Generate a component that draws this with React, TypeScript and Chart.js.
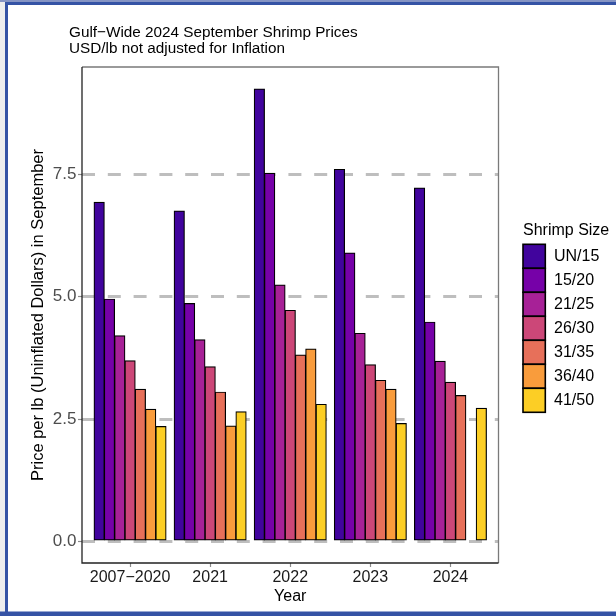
import React, { useEffect, useRef } from 'react';
import { Chart, registerables } from 'chart.js';

Chart.register(...registerables);

// ---- Data ----
const years = ['2007\u22122020', '2021', '2022', '2023', '2024'];
const sizes = ['UN/15', '15/20', '21/25', '26/30', '31/35', '36/40', '41/50'];
const un15 = [6.93, 6.75, 9.24, 7.6, 7.22];
const s15to20 = [4.95, 4.86, 7.52, 5.89, 4.48];
const s21to25 = [4.2, 4.12, 5.24, 4.25, 3.68];
const s26to30 = [3.69, 3.57, 4.72, 3.61, 3.25];
const s31to35 = [3.11, 3.05, 3.81, 3.29, 2.98];
const s36to40 = [2.7, 2.36, 3.93, 3.11, null];
const s41to50 = [2.35, 2.65, 2.8, 2.41, 2.72];
const yTicks = [0, 2.5, 5, 7.5];
const titleLines = ['Gulf\u2212Wide 2024 September Shrimp Prices', 'USD/lb not adjusted for Inflation'];
const yTitle = 'Price per lb (Uninflated Dollars) in September';
const xTitle = 'Year';
const legendTitle = 'Shrimp Size';

const colors = ['#41049D', '#7601A8', '#A72197', '#CC4778', '#E7705A', '#F99C3C', '#FCCE25'];
const FONT = "'Liberation Sans', Arial, sans-serif";

export default function App() {
  const ref = useRef<HTMLCanvasElement | null>(null);

  useEffect(() => {
    const canvas = ref.current;
    if (!canvas) return;
    const series = [un15, s15to20, s21to25, s26to30, s31to35, s36to40, s41to50];

    const datasets = sizes.map((s, i) => ({
      label: s,
      data: series[i].map((v, j) => ({ x: j + 1, y: v })),
      backgroundColor: colors[i],
      borderColor: '#000000',
      borderWidth: 1.2,
      borderSkipped: false as const,
      categoryPercentage: 0.9,
      barPercentage: 1,
      inflateAmount: 0.45,
    }));

    const decor = {
      id: 'decor',
      afterDraw(chart: any) {
        const ctx = chart.ctx;
        const a = chart.chartArea;
        ctx.save();
        // panel border
        ctx.lineWidth = 1.3;
        ctx.strokeStyle = '#7a7a7a';
        ctx.beginPath();
        ctx.moveTo(a.left, a.top);
        ctx.lineTo(a.right, a.top);
        ctx.lineTo(a.right, a.bottom);
        ctx.stroke();
        ctx.strokeStyle = '#222222';
        ctx.beginPath();
        ctx.moveTo(a.left, a.top);
        ctx.lineTo(a.left, a.bottom);
        ctx.lineTo(a.right, a.bottom);
        ctx.stroke();

        // title
        ctx.fillStyle = '#000000';
        ctx.font = `15.3px ${FONT}`;
        ctx.textAlign = 'left';
        ctx.textBaseline = 'alphabetic';
        ctx.fillText(titleLines[0], 69, 36.5);
        ctx.fillText(titleLines[1], 69, 52.5);

        // legend
        ctx.font = `16px ${FONT}`;
        ctx.fillText(legendTitle, 523, 234.5);
        const kx = 523, ky = 244.3, kw = 22.3, kh = 24;
        chart.data.datasets.forEach((ds: any, i: number) => {
          const y = ky + i * kh;
          ctx.fillStyle = ds.backgroundColor;
          ctx.fillRect(kx, y, kw, kh);
          ctx.lineWidth = 1.6;
          ctx.strokeStyle = '#000000';
          ctx.strokeRect(kx, y, kw, kh);
          ctx.fillStyle = '#000000';
          ctx.textBaseline = 'middle';
          ctx.fillText(ds.label, 554, y + kh / 2 + 0.5);
        });

        // outer frame
        ctx.fillStyle = '#eeeeee';
        ctx.fillRect(0, 0, 5, 616);
        ctx.fillStyle = '#8594c4';
        ctx.fillRect(0, 0, 616, 2);
        ctx.fillStyle = '#3553a5';
        ctx.fillRect(5, 2, 611, 3);
        ctx.fillRect(5, 2, 3, 614);
        ctx.fillRect(0, 611.5, 616, 4.5);
        ctx.restore();
      },
    };

    const chart = new Chart(canvas, {
      type: 'bar',
      data: { datasets: datasets as any },
      plugins: [decor],
      options: {
        responsive: false,
        animation: false,
        devicePixelRatio: 1,
        events: [],
        datasets: { bar: { barPercentage: 1, categoryPercentage: 0.9 } },
        layout: { padding: { top: 67, right: 117.5, bottom: 0, left: 0 } },
        plugins: {
          legend: { display: false },
          title: { display: false },
          tooltip: { enabled: false },
        },
        scales: {
          x: {
            type: 'linear',
            min: 0.4,
            max: 5.6,
            offset: false,
            afterBuildTicks: (scale: any) => {
              scale.ticks = years.map((_, i) => ({ value: i + 1 }));
            },
            afterFit: (scale: any) => {
              scale.height = 53;
            },
            ticks: {
              callback: (v: any) => years[Math.round(Number(v)) - 1] ?? '',
              color: '#1a1a1a',
              font: { family: FONT, size: 16 },
              padding: 0.5,
              maxRotation: 0,
              autoSkip: false,
            },
            grid: {
              offset: false,
              drawOnChartArea: false,
              drawTicks: true,
              tickLength: 4,
              tickColor: '#8a8a8a',
              tickWidth: 1.2,
            },
            border: { display: false },
            title: {
              display: true,
              text: xTitle,
              color: '#000000',
              font: { family: FONT, size: 16 },
              padding: { top: 0, bottom: 9.4 },
            },
          },
          y: {
            type: 'linear',
            min: -0.44,
            max: 9.69,
            afterBuildTicks: (scale: any) => {
              scale.ticks = yTicks.map((v) => ({ value: v }));
            },
            afterFit: (scale: any) => {
              scale.width = 82;
            },
            ticks: {
              callback: (v: any) => Number(v).toFixed(1),
              color: '#4d4d4d',
              font: { family: FONT, size: 17 },
              padding: 1.5,
            },
            grid: {
              color: '#bebebe',
              lineWidth: 3,
              drawTicks: true,
              tickLength: 4,
              tickColor: '#8a8a8a',
              tickWidth: 1.2,
              tickBorderDash: [],
            },
            border: { display: false, dash: [13, 12.8] },
            title: {
              display: true,
              text: yTitle,
              color: '#000000',
              font: { family: FONT, size: 16.5 },
              padding: { top: 28.6, bottom: 0 },
            },
          },
        },
      } as any,
    });

    return () => chart.destroy();
  }, []);

  return (
    <div style={{ position: 'absolute', left: 0, top: 0, width: 616, height: 616, background: '#ffffff' }}>
      <canvas ref={ref} width={616} height={616} style={{ display: 'block', width: 616, height: 616 }} />
    </div>
  );
}
